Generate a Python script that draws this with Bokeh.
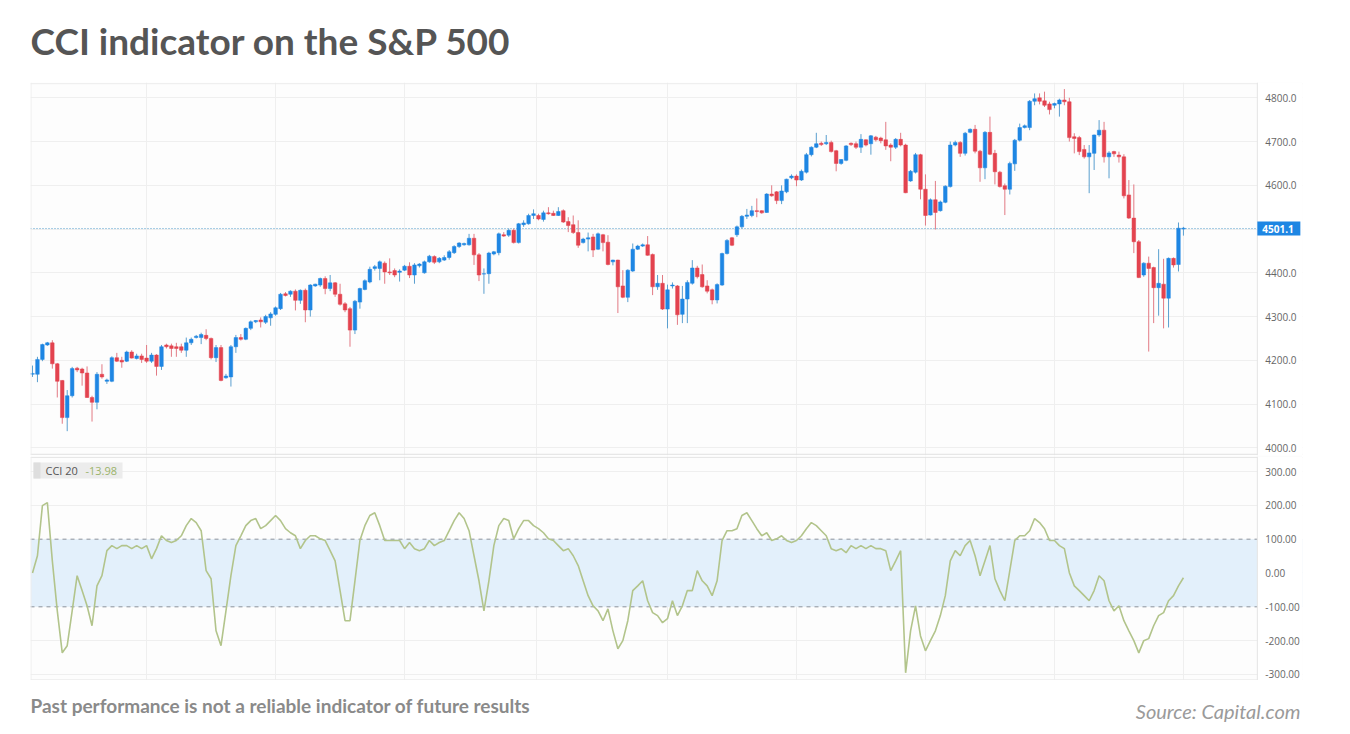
from bokeh.plotting import figure
from bokeh.layouts import column
from bokeh.models import (ColumnDataSource, Range1d, FixedTicker, PrintfTickFormatter,
                          Label, BoxAnnotation, Span)
from bokeh.embed import file_html
from bokeh.resources import INLINE

# ---------------- data ----------------
opens = [4168,4168,4202,4235,4240,4192,4154,4069,4119,4182,4180,4171,4115,4104,4168,4152,4152,4206,4200,4198,
         4219,4204,4210,4205,4198,4212,4186,4235,4233,4231,4231,4223,4240,4252,4252,4257,4250,4206,4229,4160,
         4162,4231,4252,4248,4273,4288,4292,4287,4297,4305,4318,4352,4351,4358,4337,4360,4315,4370,4372,4387,
         4364,4377,4351,4329,4318,4269,4333,4362,4379,4410,4410,4422,4402,4405,4401,4406,4415,4395,4416,4400,
         4425,4437,4425,4429,4435,4446,4460,4464,4464,4479,4441,4397,4398,4443,4446,4487,4486,4497,4469,4510,
         4512,4531,4531,4522,4537,4536,4531,4542,4517,4510,4492,4469,4477,4482,4454,4487,4470,4425,4429,4370,
         4344,4404,4454,4461,4464,4442,4368,4376,4317,4370,4370,4305,4340,4376,4411,4396,4370,4361,4338,4372,
         4444,4480,4487,4505,4529,4531,4542,4542,4538,4580,4585,4565,4585,4617,4621,4612,4630,4670,4687,4696,
         4695,4698,4679,4650,4657,4696,4695,4687,4704,4695,4710,4708,4704,4692,4687,4705,4692,4610,4630,4670,
         4591,4532,4567,4542,4561,4597,4692,4698,4673,4721,4728,4678,4640,4721,4673,4630,4599,4591,4649,4703,
         4732,4732,4792,4800,4793,4786,4783,4786,4795,4791,4711,4709,4682,4665,4673,4715,4726,4665,4677,4669,
         4665,4578,4525,4471,4395,4422,4412,4366,4374,4342,4433,4419,4500]
highs = [4188,4208,4238,4242,4246,4194,4155,4132,4185,4185,4183,4186,4119,4173,4191,4158,4209,4217,4208,4222,
         4223,4215,4215,4235,4217,4214,4235,4238,4238,4240,4238,4252,4252,4258,4263,4271,4252,4235,4235,4169,
         4235,4258,4260,4275,4291,4292,4298,4304,4310,4323,4354,4356,4360,4362,4362,4364,4374,4375,4389,4392,
         4395,4379,4375,4333,4322,4338,4366,4385,4414,4418,4428,4426,4433,4410,4408,4418,4424,4422,4422,4428,
         4441,4440,4436,4440,4452,4463,4470,4469,4489,4489,4445,4410,4448,4450,4492,4493,4501,4501,4514,4520,
         4535,4545,4535,4542,4550,4542,4550,4545,4527,4531,4520,4480,4492,4489,4492,4489,4486,4430,4430,4406,
         4408,4467,4464,4467,4484,4444,4395,4395,4373,4378,4372,4370,4383,4429,4416,4419,4383,4364,4376,4446,
         4477,4482,4508,4532,4546,4553,4570,4543,4582,4600,4587,4600,4615,4625,4625,4636,4674,4689,4720,4700,
         4715,4702,4681,4660,4692,4698,4700,4717,4705,4715,4713,4711,4745,4696,4708,4720,4695,4635,4674,4672,
         4625,4570,4610,4565,4600,4700,4702,4701,4722,4730,4738,4681,4724,4757,4681,4633,4604,4654,4706,4741,
         4739,4795,4810,4810,4814,4791,4789,4798,4820,4800,4719,4713,4692,4692,4716,4749,4745,4678,4679,4677,
         4671,4612,4602,4475,4424,4437,4414,4454,4432,4435,4435,4515,4505]
lows = [4162,4150,4198,4233,4181,4115,4055,4038,4115,4173,4142,4114,4060,4088,4158,4146,4150,4196,4183,4196,
        4204,4202,4194,4194,4194,4165,4178,4227,4208,4208,4217,4208,4235,4250,4237,4246,4202,4196,4152,4158,
        4140,4217,4245,4246,4269,4285,4275,4283,4279,4302,4315,4346,4345,4314,4329,4287,4300,4368,4368,4351,
        4358,4345,4325,4310,4231,4260,4318,4360,4376,4405,4383,4375,4395,4390,4380,4404,4388,4375,4412,4398,
        4423,4420,4422,4427,4430,4443,4457,4462,4462,4418,4381,4352,4375,4440,4440,4482,4482,4467,4467,4505,
        4510,4523,4520,4517,4533,4530,4530,4514,4493,4489,4457,4467,4449,4436,4452,4449,4417,4417,4308,4342,
        4333,4402,4452,4459,4439,4349,4361,4315,4273,4364,4281,4285,4285,4373,4387,4366,4353,4328,4330,4370,
        4442,4461,4482,4501,4523,4527,4527,4535,4537,4574,4557,4557,4582,4614,4598,4610,4627,4666,4685,4690,
        4692,4675,4632,4647,4655,4690,4683,4674,4689,4670,4700,4696,4681,4655,4683,4689,4582,4608,4627,4568,
        4508,4531,4499,4540,4559,4595,4689,4665,4668,4719,4673,4608,4614,4669,4602,4595,4532,4579,4633,4700,
        4730,4726,4783,4785,4779,4762,4776,4757,4783,4700,4673,4669,4661,4582,4635,4711,4652,4616,4665,4652,
        4570,4523,4445,4388,4391,4220,4285,4302,4273,4275,4412,4403,4485]
closes = [4170,4202,4236,4240,4192,4152,4069,4119,4181,4178,4171,4115,4104,4168,4162,4155,4206,4198,4196,4219,
          4205,4210,4202,4198,4212,4186,4231,4231,4227,4227,4223,4240,4248,4255,4259,4250,4206,4229,4154,4164,
          4231,4252,4248,4273,4288,4291,4288,4300,4306,4320,4351,4348,4358,4337,4360,4315,4372,4374,4387,4364,
          4377,4351,4328,4315,4269,4335,4364,4382,4408,4414,4425,4402,4400,4395,4404,4415,4395,4418,4420,4425,
          4438,4424,4433,4435,4448,4460,4468,4467,4479,4441,4395,4398,4445,4448,4489,4484,4497,4469,4512,4514,
          4531,4535,4523,4537,4535,4531,4540,4516,4508,4492,4463,4477,4480,4452,4489,4469,4419,4429,4368,4344,
          4406,4454,4461,4464,4440,4368,4376,4317,4361,4372,4304,4340,4378,4411,4391,4368,4358,4338,4373,4444,
          4474,4463,4505,4529,4532,4542,4540,4537,4580,4576,4565,4587,4614,4621,4612,4632,4670,4687,4695,4693,
          4698,4677,4650,4659,4690,4693,4687,4705,4692,4713,4704,4702,4690,4687,4705,4692,4583,4632,4670,4591,
          4531,4567,4538,4562,4598,4692,4698,4673,4719,4728,4678,4640,4721,4671,4631,4597,4591,4650,4703,4732,
          4736,4792,4798,4792,4783,4773,4787,4795,4791,4709,4707,4677,4665,4674,4715,4726,4665,4674,4672,4665,
          4576,4525,4471,4389,4422,4410,4366,4376,4342,4433,4418,4502,4502]
cci = [0,51,199,208,36,-112,-236,-215,-112,-8,-52,-97,-156,-38,-8,66,81,72,81,81,
       72,81,72,81,42,72,110,96,90,96,110,140,161,149,125,7,-17,-171,-215,-112,
       -8,81,110,140,155,161,131,140,155,170,155,131,119,110,72,96,110,110,101,96,
       66,36,-52,-141,-141,-23,96,140,170,178,140,96,96,96,96,72,90,72,66,72,
       96,81,90,96,125,155,178,161,125,51,-23,-112,-23,81,140,161,155,101,131,155,
       155,140,131,119,101,96,81,66,72,51,22,-23,-67,-97,-112,-141,-106,-171,-224,-200,
       -141,-52,-38,-23,-82,-117,-126,-147,-135,-82,-126,-97,-52,-52,7,-23,-38,-67,-23,96,
       125,125,131,170,178,155,131,110,119,96,101,110,96,90,96,110,131,149,140,125,
       110,72,66,72,60,81,72,81,72,81,72,72,66,7,36,66,-295,-171,-97,-186,
       -230,-200,-171,-126,-67,36,66,51,81,96,51,-8,36,81,-17,-52,-82,7,96,110,
       110,125,161,149,131,96,96,81,72,1,-38,-52,-67,-82,-52,-8,-23,-82,-112,-97,
       -141,-171,-200,-236,-200,-194,-156,-126,-117,-82,-67,-38,-14]
last_price = 4501.1
cci_last = -13.98
price_ticks = [4000, 4100, 4200, 4300, 4400, 4500, 4600, 4700, 4800]
cci_ticks = [-300, -200, -100, 0, 100, 200, 300]
grid_x = [23, 49, 75, 101.5, 128, 154, 180, 206, 232]
title_text = "CCI indicator on the S&P 500"
note_text = "Past performance is not a reliable indicator of future results"
source_text = "Source: Capital.com"

# ---------------- build ----------------
n = len(closes)
idx = list(range(n))
UP, DN = "#1e86e3", "#e3434f"
UPW, DNW = "#5a9fcf", "#e27a84"
src = ColumnDataSource(dict(
    x=idx, o=opens, h=highs, l=lows, c=closes,
    top=[max(a, b) for a, b in zip(opens, closes)],
    bot=[min(a, b) for a, b in zip(opens, closes)],
    col=[UP if c >= o else DN for o, c in zip(opens, closes)],
    wcol=[UPW if c >= o else DNW for o, c in zip(opens, closes)],
))

LEFT = 30          # left border
FW = 1272          # frame width (plot area + right label strip)
RIGHT = 40
X0, X_END, X1 = -0.4, 246.9, 256.0   # x range; X_END = right edge of the chart area
PX_X = FW / (X1 - X0)                # pixels per candle step
PRICE_LO, PRICE_HI = 3982.4, 4835
PX_P = 373 / (PRICE_HI - PRICE_LO)   # pixels per price point
xr = Range1d(X0, X1)
LABEL_FONT = "Open Sans"
GRID = "#efefef"


def blank(h):
    f = figure(frame_width=FW, frame_height=h, x_range=Range1d(0, FW),
               y_range=Range1d(0, h), x_axis_location=None, y_axis_location=None,
               min_border_left=LEFT, min_border_right=RIGHT, min_border_top=0,
               min_border_bottom=0, output_backend="svg", toolbar_location=None)
    f.grid.visible = False
    f.outline_line_color = None
    f.background_fill_color = "white"
    f.border_fill_color = "white"
    return f


def style(p, ticks, fmt):
    p.background_fill_color = "#fdfdfd"
    p.border_fill_color = "white"
    p.outline_line_color = None
    p.xgrid.ticker = FixedTicker(ticks=grid_x)
    p.ygrid.ticker = FixedTicker(ticks=ticks)
    p.xgrid.grid_line_color = GRID
    p.ygrid.grid_line_color = GRID
    ax = p.yaxis[0]
    ax.fixed_location = X_END
    ax.ticker = FixedTicker(ticks=ticks)
    ax.formatter = PrintfTickFormatter(format=fmt)
    ax.axis_line_color = None
    ax.major_tick_line_color = None
    ax.minor_tick_line_color = None
    ax.major_tick_out = 0
    ax.major_tick_in = 0
    ax.minor_tick_out = 0
    ax.minor_tick_in = 0
    ax.major_label_standoff = 8
    ax.major_label_text_font_size = "10px"
    ax.major_label_text_color = "#666666"
    ax.major_label_text_font = LABEL_FONT


def cover(p):
    # white strip right of the chart area, where the value labels sit
    p.add_layout(BoxAnnotation(left=X_END, fill_color="white", fill_alpha=1.0,
                               line_color=None, level="underlay"))
    p.add_layout(Span(location=X_END, dimension="height", line_color="#e4e4e4", line_width=1))
    p.add_layout(Span(location=X0 + 0.1, dimension="height", line_color="#ececec", line_width=1))


# header with title
head = blank(82)
head.add_layout(Label(x=0, y=42, x_units="screen", y_units="screen", text=title_text,
                      text_baseline="middle", text_align="left", text_color="#555555",
                      text_font_size="37px", text_font_style="bold", text_font="Lato"))

# price panel
p1 = figure(frame_width=FW, frame_height=373, x_range=xr, y_range=Range1d(PRICE_LO, PRICE_HI),
            x_axis_location=None, y_axis_location="right",
            min_border_left=LEFT, min_border_right=RIGHT, min_border_top=0, min_border_bottom=1,
            output_backend="svg", toolbar_location=None)
style(p1, price_ticks, "%.1f")
p1.add_layout(Span(location=PRICE_HI - 1.2 / PX_P, dimension="width", line_color="#ececec",
                   level="underlay"))
p1.add_layout(Span(location=PRICE_LO + 1.2 / PX_P, dimension="width", line_color="#e2e2e2",
                   level="underlay"))
p1.add_layout(Span(location=last_price, dimension="width", line_color="#4a98c9",
                   line_dash="1 2", line_width=1, level="underlay"))
cover(p1)
p1.segment(x0="x", y0="l", x1="x", y1="h", line_color="wcol", line_width=1, source=src)
p1.vbar(x="x", width=0.72, top="top", bottom="bot", fill_color="col", line_color="col",
        line_width=0.5, source=src)

# last-price tag on the value strip
p1.add_layout(BoxAnnotation(left=X_END, right=X_END + 43 / PX_X,
                            bottom=last_price - 7 / PX_P, top=last_price + 7 / PX_P,
                            fill_color="#1e86e3", fill_alpha=1.0, line_color=None))
p1.add_layout(Label(x=X_END, y=last_price, x_units="data", y_units="data", x_offset=5,
                    text=f"{last_price:.1f}", text_baseline="middle", text_align="left",
                    text_color="white", text_font_size="10px", text_font_style="bold",
                    text_font=LABEL_FONT))

# CCI panel
p2 = figure(frame_width=FW, frame_height=224, x_range=xr, y_range=Range1d(-317.8, 344.4),
            x_axis_location=None, y_axis_location="right",
            min_border_left=LEFT, min_border_right=RIGHT, min_border_top=0, min_border_bottom=0,
            output_backend="svg", toolbar_location=None)
style(p2, cci_ticks, "%.2f")
p2.add_layout(Span(location=342.0, dimension="width", line_color="#e2e2e2", level="underlay"))
p2.add_layout(Span(location=-315.5, dimension="width", line_color="#ececec", level="underlay"))
p2.add_layout(BoxAnnotation(bottom=-100, top=100, fill_color="#e3f0fb", fill_alpha=1.0,
                            line_color=None, level="underlay"))
for lv in (100, -100):
    p2.add_layout(Span(location=lv, dimension="width", line_color="#8d939c",
                       line_dash="4 4", line_width=1, level="underlay"))
cover(p2)
p2.line(x=idx, y=cci, line_color="#b2c48b", line_width=1.6)

p2.add_layout(BoxAnnotation(left=3, right=92, bottom=202, top=218,
                            left_units="screen", right_units="screen",
                            bottom_units="screen", top_units="screen",
                            fill_color="#ececec", fill_alpha=1.0, line_color=None))
p2.add_layout(BoxAnnotation(left=3, right=10, bottom=202, top=218,
                            left_units="screen", right_units="screen",
                            bottom_units="screen", top_units="screen",
                            fill_color="#dedede", fill_alpha=1.0, line_color=None))
p2.add_layout(Label(x=15, y=210, x_units="screen", y_units="screen", text="CCI 20",
                    text_baseline="middle", text_color="#555555", text_font_size="11px",
                    text_font=LABEL_FONT))
p2.add_layout(Label(x=55, y=210, x_units="screen", y_units="screen", text=f"{cci_last:.2f}",
                    text_baseline="middle", text_color="#9bb36a", text_font_size="11px",
                    text_font=LABEL_FONT))

# footer
foot = blank(50)
foot.add_layout(Label(x=0, y=25, x_units="screen", y_units="screen", text=note_text,
                      text_baseline="middle", text_color="#8a8a8a", text_font_size="19px",
                      text_font_style="bold", text_font="Lato"))
foot.add_layout(Label(x=1270, y=20, x_units="screen", y_units="screen", text=source_text,
                      text_baseline="middle", text_align="right", text_color="#9a9a9a",
                      text_font_size="20px", text_font_style="italic", text_font="Lato"))

layout = column(head, p1, p2, foot)
open("out.html", "w").write(file_html(layout, INLINE))
